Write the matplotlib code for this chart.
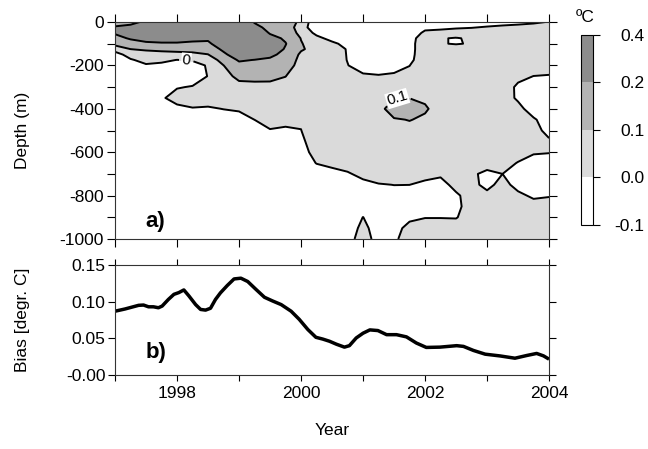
import numpy as np
import matplotlib
matplotlib.use("Agg")
import matplotlib.pyplot as plt

plt.rcParams['font.family'] = ['Liberation Sans', 'DejaVu Sans']
plt.rcParams['axes.unicode_minus'] = False

# ---- depth/time section of the temperature bias (degC) ----
section_years = 1997.0 + 0.25 * np.arange(29)
section_depths = np.array([0, 25, 50, 75, 100, 125, 150, 175, 200, 250, 300, 350,
                           400, 450, 500, 550, 600, 650, 700, 750, 800, 850, 900,
                           950, 1000])

W = -0.08   # plain negative bias
L = 0.08    # plain weak positive bias
bias_rows = [
    # 0 m
    [0.16, 0.17, 0.22, 0.33, 0.33, 0.33, 0.33, 0.33, 0.33, 0.19, 0.13, 0.15, 0.08, W, W, W, W, W, W, W,
     -0.078, -0.07, -0.06, -0.054, -0.042, -0.032, -0.024, -0.014, 0.004],
    # 25 m
    [0.21, 0.23, 0.33, 0.33, 0.33, 0.33, 0.32, 0.33, 0.33, 0.24, 0.16, 0.16, 0.05, -0.07, W, W, W, W, W, W,
     -0.028, -0.02, -0.01, -0.004, 0.008, 0.018, 0.026, 0.036, 0.05],
    # 50 m
    [0.21, 0.26, 0.29, 0.29, 0.29, 0.28, 0.27, 0.33, 0.33, 0.29, 0.19, 0.17, 0.07, -0.024, W, -0.07, W, W, W, -0.07,
     0.022, 0.03, 0.04, 0.046, 0.058, 0.068, 0.076, L, L],
    # 75 m
    [0.17, 0.21, 0.24, 0.24, 0.24, 0.23, 0.22, 0.32, 0.33, 0.33, 0.236, 0.185, 0.097, 0.026, -0.03, -0.05, W, W, W, -0.05,
     0.07, 0.005, -0.005, 0.01, L, L, L, L, L],
    # 100 m
    [0.13, 0.16, 0.18, 0.19, 0.19, 0.18, 0.18, 0.27, 0.33, 0.33, 0.286, 0.205, 0.105, 0.06, 0.02, -0.03, W, W, W, -0.045,
     L, 0.01, -0.01, 0.012, L, L, L, L, L],
    # 125 m
    [0.04, 0.10, 0.11, 0.12, 0.13, 0.13, 0.14, 0.22, 0.31, 0.30, 0.27, 0.19, 0.11, 0.07, 0.07, -0.01, W, W, W, -0.045,
     L, L, L, L, L, L, L, L, L],
    # 150 m
    [-0.04, 0.04, 0.07, 0.07, 0.07, 0.08, 0.098, 0.18, 0.26, 0.25, 0.22, 0.174, 0.085, L, L, -0.008, W, W, W, -0.04,
     L, L, L, L, L, L, L, L, L],
    # 175 m
    [W, -0.01, 0.03, 0.02, -0.002, 0.01, 0.04, 0.14, 0.21, 0.198, 0.186, 0.156, 0.075, L, L, -0.005, W, W, W, -0.03,
     L, L, L, L, L, L, L, L, L],
    # 200 m
    [W, -0.06, -0.01, -0.02, -0.05, -0.04, 0.01, 0.099, 0.175, 0.171, 0.162, 0.138, 0.07, L, L, 0.005, -0.074, W, -0.07, -0.002,
     L, L, L, L, L, L, L, L, L],
    # 250 m
    [W, W, W, W, W, W, 0.005, 0.076, 0.117, 0.118, 0.114, 0.101, 0.065, L, L, 0.04, 0.026, 0.012, 0.03, 0.033,
     L, L, L, L, L, L, 0.04, -0.002, -0.012],
    # 300 m
    [W, W, W, -0.06, -0.01, 0.01, 0.04, 0.052, 0.078, 0.082, 0.085, 0.079, 0.055, L, L, L, L, L, 0.057, 0.067,
     0.085, L, L, L, L, L, -0.028, W, W],
    # 350 m
    [W, W, W, -0.02, 0.06, 0.08, 0.08, 0.028, 0.047, 0.055, 0.063, 0.058, 0.045, L, L, L, L, L, 0.098, 0.099,
     0.092, L, L, L, L, L, -0.025, W, W],
    # 400 m
    [W, W, W, -0.05, -0.04, -0.01, -0.02, 0.004, 0.016, 0.028, 0.041, 0.036, 0.03, L, L, L, L, L, 0.13, 0.13,
     0.106, L, L, L, L, L, 0.05, W, W],
    # 450 m
    [W, W, W, W, W, W, W, W, -0.05, 0.001, 0.02, 0.015, 0.015, L, L, L, L, L, 0.095, 0.102,
     0.092, L, L, L, L, L, L, 0.02, W],
    # 500 m
    [W, W, W, W, W, W, W, W, W, W, -0.003, -0.008, -0.002, L, L, L, L, L, 0.082, 0.085,
     L, L, L, L, L, L, L, L, -0.07],
    # 550 m
    [W, W, W, W, W, W, W, W, W, W, -0.06, -0.06, -0.03, L, L, L, L, L, 0.066, 0.068,
     L, L, L, L, L, L, L, L, 0.03],
    # 600 m
    [W, W, W, W, W, W, W, W, W, W, W, W, -0.06, 0.056, L, L, L, L, 0.05, 0.051,
     L, L, L, L, L, L, L, 0.02, 0.008],
    # 650 m
    [W, W, W, W, W, W, W, W, W, W, W, W, W, 0.005, 0.044, L, L, L, 0.034, 0.034,
     L, L, L, L, 0.064, 0.07, -0.01, W, W],
    # 700 m
    [W, W, W, W, W, W, W, W, W, W, W, W, W, -0.07, -0.056, -0.02, 0.05, L, 0.018, 0.018,
     0.06, 0.032, L, 0.025, -0.036, 0.0, W, W, W],
    # 750 m
    [W, W, W, W, W, W, W, W, W, W, W, W, W, W, W, W, -0.05, -0.01, 0.002, 0.001,
     -0.04, -0.068, 0.06, 0.05, -0.05, 0.06, -0.06, W, W],
    # 800 m
    [W, W, W, W, W, W, W, W, W, W, W, W, W, W, W, W, W, W, -0.05, W,
     W, W, -0.03, L, 0.048, L, 0.04, -0.03, -0.012],
    # 850 m
    [W, W, W, W, W, W, W, W, W, W, W, W, W, W, W, W, W, W, W, W,
     W, W, -0.045, L, L, L, L, 0.07, L],
    # 900 m
    [W, W, W, W, W, W, W, W, W, W, W, W, W, W, W, W, 0.002, W, W, -0.04,
     -0.006, -0.006, -0.01, L, L, L, L, L, L],
    # 950 m
    [W, W, W, W, W, W, W, W, W, W, W, W, W, W, W, W, 0.04, -0.07, -0.068, 0.06,
     L, L, L, L, L, L, L, L, L],
    # 1000 m
    [W, W, W, W, W, W, W, W, W, W, W, W, W, W, W, -0.05, 0.06, -0.05, -0.03, L,
     L, L, L, L, L, L, L, L, L],
]

levels = [-0.1, 0.0, 0.1, 0.2, 0.4]
level_labels = ['-0.1', '0.0', '0.1', '0.2', '0.4']
fill_colors = ['#ffffff', '#dadada', '#b3b3b3', '#8c8c8c']

# ---- area-mean bias time series ----
series_years = [1997.00, 1997.16, 1997.38, 1997.46, 1997.54, 1997.62, 1997.70, 1997.76,
                1997.86, 1997.95, 1998.03, 1998.11, 1998.19, 1998.30, 1998.38, 1998.46,
                1998.54, 1998.62, 1998.70, 1998.81, 1998.92, 1999.03, 1999.14, 1999.27,
                1999.41, 1999.54, 1999.68, 1999.84, 1999.97, 2000.11, 2000.24, 2000.35,
                2000.46, 2000.57, 2000.70, 2000.78, 2000.89, 2001.00, 2001.11, 2001.24,
                2001.38, 2001.54, 2001.70, 2001.86, 2002.02, 2002.24, 2002.51, 2002.62,
                2002.78, 2002.97, 2003.21, 2003.45, 2003.64, 2003.80, 2003.91, 2004.00]
series_bias = [0.087, 0.090, 0.095, 0.0954, 0.093, 0.093, 0.0917, 0.094,
               0.103, 0.110, 0.1124, 0.116, 0.108, 0.096, 0.0894, 0.0885,
               0.091, 0.103, 0.112, 0.122, 0.131, 0.132, 0.1275, 0.117,
               0.106, 0.101, 0.096, 0.087, 0.076, 0.062, 0.0514, 0.049,
               0.046, 0.042, 0.038, 0.040, 0.0505, 0.057, 0.0615, 0.0606,
               0.055, 0.055, 0.052, 0.0436, 0.0376, 0.038, 0.040, 0.039,
               0.0335, 0.0284, 0.026, 0.0229, 0.0266, 0.0294, 0.0261, 0.0216]

bias_ticks = [0.0, 0.05, 0.10, 0.15]
bias_tick_labels = ['-0.00', '0.05', '0.10', '0.15']
year_ticks = [1998, 2000, 2002, 2004]

FS = 12.5
fig = plt.figure(figsize=(6.48, 4.49), dpi=100)
ax1 = fig.add_axes([0.1775, 0.4677, 0.6698, 0.4833])
ax2 = fig.add_axes([0.1775, 0.1648, 0.6698, 0.2450])
cax = fig.add_axes([0.8966, 0.4989, 0.0185, 0.4232])

Z = np.array(bias_rows)
neg_depth = -section_depths
cf = ax1.contourf(section_years, neg_depth, Z, levels=levels, colors=fill_colors)
cl = ax1.contour(section_years, neg_depth, Z, levels=[0.0, 0.1, 0.2],
                 colors='k', linewidths=1.4)


def fmt(v):
    return '0' if abs(v) < 1e-9 else f'{v:.1f}'


ax1.clabel(cl, levels=[0.0, 0.1], manual=[(1998.15, -175), (2001.55, -320)],
           fmt=fmt, inline=True, fontsize=11, inline_spacing=3)
for t in cl.labelTexts:
    t.set_bbox(dict(facecolor='white', edgecolor='none', pad=0.5))

ax1.set_xlim(1997, 2004)
ax1.set_ylim(-1000, 0)
ax1.set_yticks(np.arange(-1000, 1, 200))
ax1.set_yticks(np.arange(-900, 0, 200), minor=True)
ax1.set_xticks(np.arange(1997, 2005, 1))
ax1.tick_params(which='both', direction='out', top=True, right=True, length=6,
                width=0.8, labelbottom=False, labelsize=FS, pad=2)
ax1.set_ylabel('Depth (m)', fontsize=FS)
ax1.yaxis.set_label_coords(-0.196, 0.5)
ax1.text(0.071, 0.055, 'a)', transform=ax1.transAxes, fontsize=16,
         fontweight='bold', va='baseline')

ax2.plot(series_years, series_bias, color='k', lw=2.5, solid_capstyle='butt')
ax2.set_xlim(1997, 2004)
ax2.set_ylim(0, 0.15)
ax2.set_yticks(bias_ticks)
ax2.set_yticklabels(bias_tick_labels)
ax2.set_xticks(year_ticks)
ax2.set_xticks([1997, 1999, 2001, 2003], minor=True)
ax2.tick_params(axis='x', which='both', direction='out', top=True, length=4,
                width=0.8, labelsize=FS, pad=4)
ax2.tick_params(axis='y', which='both', direction='out', right=True, length=5,
                width=0.8, labelsize=FS, pad=2)
ax2.set_ylabel('Bias [degr. C]', fontsize=FS)
ax2.yaxis.set_label_coords(-0.196, 0.5)
ax2.set_xlabel('Year', fontsize=FS, labelpad=16)
ax2.text(0.071, 0.155, 'b)', transform=ax2.transAxes, fontsize=16,
         fontweight='bold', va='baseline')

for ax in (ax1, ax2):
    for s in ax.spines.values():
        s.set_linewidth(0.8)
        s.set_color('#333333')

cb = fig.colorbar(cf, cax=cax, ticks=levels)
cb.ax.set_yticklabels(level_labels)
cb.outline.set_linewidth(0.8)
cax.tick_params(direction='out', length=5, width=0.8, labelsize=FS, pad=32)
for t in cax.get_yticklabels():
    t.set_horizontalalignment('right')
fig.text(585 / 648, 1 - 18 / 449, 'ºC', ha='center', va='center', fontsize=12.5)

fig.savefig('out.png', dpi=100)
